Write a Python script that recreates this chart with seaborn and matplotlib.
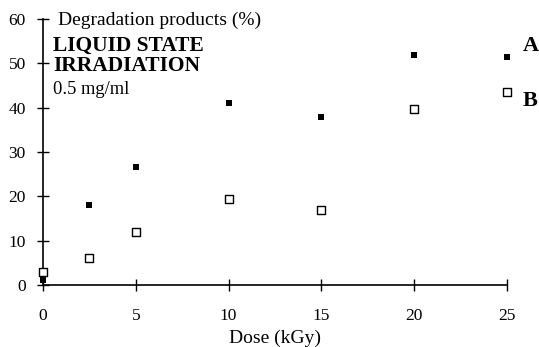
import matplotlib
matplotlib.use("Agg")
import matplotlib.pyplot as plt
import seaborn as sns
import pandas as pd

dose = [0, 2.5, 5, 10, 15, 20, 25]
series_a = [1, 18, 26.5, 41, 37.8, 52, 51.5]
series_b = [3, 6, 12, 19.5, 17, 39.7, 43.5]
x_ticks = [0, 5, 10, 15, 20, 25]
y_ticks = [0, 10, 20, 30, 40, 50, 60]

sns.set_style("white")
plt.rcParams['font.family'] = ['Liberation Serif', 'DejaVu Serif']
plt.rcParams['text.color'] = 'black'
plt.rcParams['axes.labelcolor'] = 'black'
plt.rcParams['xtick.color'] = 'black'
plt.rcParams['ytick.color'] = 'black'

df = pd.DataFrame({
    "Dose": dose * 2,
    "Value": series_a + series_b,
    "Series": ["A"] * len(dose) + ["B"] * len(dose),
})

fig = plt.figure(figsize=(5.39, 3.47), dpi=100)
ax = fig.add_axes([0.08, 0.179, 0.86, 0.766])

da = df[df.Series == "A"]
db = df[df.Series == "B"]
sns.scatterplot(data=da, x="Dose", y="Value", marker="s", s=14, color="black",
                edgecolor="black", linewidth=0, ax=ax, clip_on=False, zorder=3)
sns.scatterplot(data=db, x="Dose", y="Value", marker="s", s=32, facecolor="white",
                edgecolor="black", linewidth=1.0, ax=ax, clip_on=False, zorder=4)

ax.set_xlim(0, 25)
ax.set_ylim(0, 60)
ax.set_xticks(x_ticks)
ax.set_yticks(y_ticks)
ax.set_xticklabels([str(t) for t in x_ticks])
ax.set_yticklabels([str(t) for t in y_ticks])
for s in ["top", "right"]:
    ax.spines[s].set_visible(False)
for s in ["left", "bottom"]:
    ax.spines[s].set_linewidth(1.2)
    ax.spines[s].set_color("black")
ax.tick_params(axis="both", which="major", bottom=True, left=True, direction="inout",
               length=9, width=1.0, colors="black", labelsize=12.5)
ax.tick_params(axis="x", pad=12)
ax.tick_params(axis="y", pad=8)
ax.set_xlabel("Dose (kGy)", fontsize=14, labelpad=4, color="black")
ax.set_ylabel("")

ax.text(0.8, 59.8, "Degradation products (%)", fontsize=14, va="center", ha="left", color="black")
ax.text(0.54, 54.0, "LIQUID STATE", fontsize=15.5, fontweight="bold", va="center", ha="left", color="black")
ax.text(0.54, 49.3, "IRRADIATION", fontsize=15.5, fontweight="bold", va="center", ha="left", color="black")
ax.text(0.54, 44.2, "0.5 mg/ml", fontsize=13.3, va="center", ha="left", color="black")

ax.text(25.85, 54.0, "A", fontsize=16, fontweight="bold", va="center", ha="left", clip_on=False, color="black")
ax.text(25.85, 41.4, "B", fontsize=16, fontweight="bold", va="center", ha="left", clip_on=False, color="black")

fig.savefig("out.png", dpi=100)
